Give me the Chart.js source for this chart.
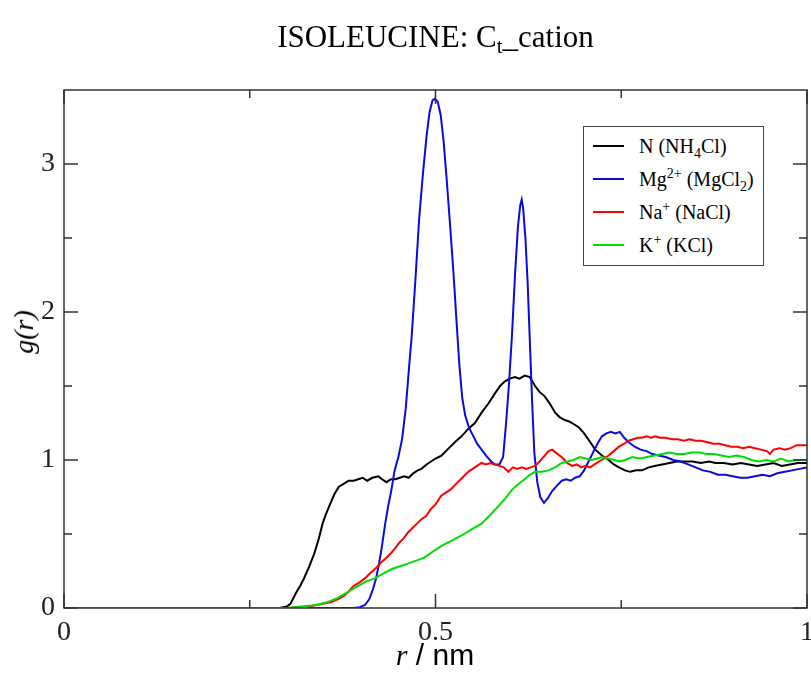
<!DOCTYPE html>
<html>
<head>
<meta charset="utf-8">
<script src="https://cdn.jsdelivr.net/npm/chart.js@4.4.1/dist/chart.umd.min.js"></script>
<style>
  body { margin:0; background:#fff; }
  #wrap { position:relative; width:811px; height:675px; }
  #grCanvas { position:absolute; left:0; top:0; }
  .lbl { position:absolute; font-family:"Liberation Serif", "Times New Roman", serif; color:#000; white-space:nowrap; }
  #title { left:64px; width:743px; top:19px; text-align:center; font-size:31px; line-height:36px; }
  #title sub { font-size:21px; vertical-align:-6px; line-height:0; }
  #ylab { left:24px; top:332px; font-size:28px; font-style:italic; transform:translate(-50%,-50%) rotate(-90deg); }
  #xlab { left:435px; top:655px; font-size:30px; transform:translate(-50%,-50%); }
  #xlab .nm { font-family:"Liberation Sans", Arial, sans-serif; font-style:normal; }
  #legend { position:absolute; left:583px; top:126px; width:179px; height:138px; border:1.5px solid #444; background:#fff;
            font-family:"Liberation Serif", "Times New Roman", serif; font-size:20px; }
  #legend .row { position:absolute; left:0; height:30px; line-height:30px; }
  #legend .swatch { position:absolute; left:9px; top:14px; width:31px; height:2px; }
  #legend .txt { position:absolute; left:55px; top:0; white-space:nowrap; }
  #legend sup { font-size:14px; vertical-align:8px; line-height:0; }
  #legend sub { font-size:14px; vertical-align:-5px; line-height:0; }
</style>
</head>
<body>
<div id="wrap">
  <canvas id="grCanvas" width="811" height="675"></canvas>
  <div id="title" class="lbl">ISOLEUCINE: C<sub>t</sub>_cation</div>
  <div id="ylab" class="lbl">g(r)</div>
  <div id="xlab" class="lbl"><i>r</i><span class="nm"> / nm</span></div>
  <div id="legend"></div>
</div>
<script>
// g(r) curves, [r in nm, g]
const nh4 = [[0,0],[0.29,0],[0.300,0.01],[0.305,0.03],[0.312,0.10],[0.318,0.15],[0.323,0.20],[0.330,0.28],[0.337,0.37],[0.343,0.47],
  [0.348,0.57],[0.353,0.64],[0.358,0.70],[0.364,0.77],[0.370,0.82],[0.377,0.84],[0.383,0.86],[0.390,0.86],[0.396,0.87],[0.402,0.88],
  [0.408,0.86],[0.415,0.88],[0.423,0.89],[0.428,0.87],[0.434,0.85],[0.440,0.87],[0.446,0.87],[0.452,0.88],[0.458,0.89],[0.464,0.88],
  [0.470,0.91],[0.476,0.93],[0.481,0.94],[0.488,0.97],[0.494,0.99],[0.500,1.01],[0.508,1.03],[0.516,1.07],[0.526,1.12],[0.535,1.16],
  [0.544,1.21],[0.553,1.25],[0.562,1.32],[0.571,1.38],[0.580,1.45],[0.587,1.50],[0.593,1.53],[0.600,1.55],[0.607,1.56],[0.613,1.55],
  [0.620,1.57],[0.627,1.56],[0.634,1.50],[0.640,1.46],[0.647,1.43],[0.654,1.38],[0.661,1.32],[0.667,1.29],[0.674,1.27],[0.680,1.26],
  [0.687,1.24],[0.693,1.22],[0.700,1.18],[0.707,1.13],[0.715,1.07],[0.724,1.03],[0.733,1.00],[0.740,0.97],[0.747,0.95],[0.755,0.93],
  [0.762,0.92],[0.770,0.93],[0.778,0.93],[0.787,0.95],[0.795,0.96],[0.805,0.97],[0.815,0.98],[0.825,0.99],[0.835,0.99],[0.846,0.99],
  [0.857,0.98],[0.868,0.99],[0.877,0.98],[0.888,0.98],[0.900,0.97],[0.911,0.98],[0.922,0.97],[0.933,0.96],[0.944,0.97],[0.955,0.98],
  [0.966,0.96],[0.977,0.97],[0.988,0.98],[1.0,0.98]];

const mg = [[0,0],[0.39,0],[0.398,0.005],[0.405,0.02],[0.411,0.06],[0.416,0.13],[0.420,0.20],[0.424,0.30],[0.428,0.42],[0.432,0.56],
  [0.436,0.68],[0.440,0.78],[0.445,0.93],[0.450,1.02],[0.455,1.14],[0.460,1.35],[0.464,1.60],[0.468,1.84],[0.473,2.22],[0.478,2.63],
  [0.483,2.93],[0.488,3.19],[0.492,3.35],[0.496,3.43],[0.499,3.44],[0.503,3.42],[0.507,3.33],[0.511,3.15],[0.515,2.90],[0.519,2.63],
  [0.524,2.28],[0.528,1.96],[0.532,1.65],[0.536,1.42],[0.540,1.30],[0.545,1.22],[0.550,1.17],[0.556,1.11],[0.562,1.07],[0.568,1.03],
  [0.575,0.99],[0.580,0.97],[0.586,0.97],[0.591,1.02],[0.595,1.25],[0.599,1.52],[0.603,1.85],[0.607,2.25],[0.611,2.58],[0.614,2.72],
  [0.616,2.76],[0.618,2.70],[0.621,2.50],[0.624,2.20],[0.627,1.80],[0.630,1.40],[0.633,1.05],[0.637,0.85],[0.641,0.75],[0.646,0.71],
  [0.651,0.74],[0.657,0.79],[0.664,0.83],[0.670,0.86],[0.676,0.87],[0.682,0.86],[0.688,0.88],[0.694,0.89],[0.700,0.93],[0.706,0.99],
  [0.712,1.05],[0.718,1.11],[0.724,1.16],[0.730,1.18],[0.736,1.19],[0.742,1.18],[0.748,1.19],[0.754,1.15],[0.760,1.12],[0.768,1.09],
  [0.776,1.07],[0.784,1.06],[0.792,1.04],[0.800,1.03],[0.810,1.02],[0.820,1.00],[0.830,0.99],[0.840,0.97],[0.850,0.95],[0.860,0.93],
  [0.870,0.92],[0.880,0.90],[0.890,0.90],[0.900,0.89],[0.910,0.88],[0.920,0.88],[0.930,0.89],[0.940,0.90],[0.950,0.89],[0.960,0.91],
  [0.970,0.92],[0.980,0.93],[0.990,0.94],[1.0,0.95]];

const na = [[0,0],[0.30,0],[0.315,0.005],[0.330,0.01],[0.340,0.02],[0.350,0.03],[0.360,0.04],[0.369,0.06],[0.376,0.08],[0.383,0.11],
  [0.390,0.15],[0.397,0.17],[0.405,0.20],[0.413,0.24],[0.420,0.27],[0.427,0.31],[0.434,0.34],[0.440,0.37],[0.445,0.40],[0.451,0.44],
  [0.457,0.47],[0.463,0.51],[0.469,0.54],[0.475,0.57],[0.481,0.60],[0.487,0.62],[0.494,0.67],[0.500,0.70],[0.508,0.76],[0.514,0.78],
  [0.520,0.80],[0.526,0.83],[0.532,0.86],[0.538,0.89],[0.544,0.92],[0.550,0.94],[0.556,0.96],[0.562,0.98],[0.568,0.97],[0.574,0.98],
  [0.580,0.97],[0.586,0.96],[0.592,0.95],[0.598,0.92],[0.604,0.95],[0.610,0.94],[0.616,0.95],[0.622,0.94],[0.628,0.95],[0.634,0.96],
  [0.640,0.99],[0.647,1.03],[0.652,1.06],[0.657,1.07],[0.662,1.05],[0.667,1.03],[0.672,1.01],[0.677,0.98],[0.684,0.96],[0.690,0.97],
  [0.696,0.95],[0.702,0.96],[0.708,0.95],[0.714,0.97],[0.720,0.99],[0.727,1.01],[0.733,1.03],[0.740,1.06],[0.747,1.09],[0.754,1.11],
  [0.760,1.13],[0.766,1.14],[0.772,1.15],[0.778,1.15],[0.784,1.16],[0.790,1.15],[0.796,1.16],[0.802,1.15],[0.810,1.15],[0.818,1.14],
  [0.826,1.14],[0.834,1.13],[0.842,1.14],[0.850,1.13],[0.858,1.13],[0.866,1.12],[0.874,1.11],[0.882,1.11],[0.890,1.10],[0.898,1.09],
  [0.906,1.09],[0.914,1.08],[0.922,1.09],[0.930,1.08],[0.938,1.07],[0.946,1.06],[0.950,1.04],[0.955,1.07],[0.963,1.08],[0.970,1.07],
  [0.978,1.08],[0.986,1.10],[1.0,1.10]];

const k = [[0,0],[0.30,0],[0.32,0.01],[0.34,0.02],[0.355,0.04],[0.369,0.07],[0.383,0.11],[0.396,0.15],[0.407,0.18],[0.418,0.20],
  [0.429,0.23],[0.440,0.26],[0.451,0.28],[0.463,0.30],[0.474,0.32],[0.485,0.34],[0.496,0.38],[0.508,0.42],[0.520,0.45],[0.535,0.49],
  [0.548,0.53],[0.562,0.57],[0.574,0.63],[0.585,0.69],[0.594,0.74],[0.603,0.80],[0.612,0.84],[0.620,0.87],[0.627,0.90],[0.634,0.92],
  [0.643,0.92],[0.652,0.93],[0.661,0.95],[0.670,0.98],[0.678,0.99],[0.686,1.00],[0.694,1.02],[0.702,1.01],[0.710,1.00],[0.718,1.01],
  [0.724,1.02],[0.732,1.01],[0.740,1.00],[0.748,0.99],[0.755,1.00],[0.765,1.02],[0.775,1.01],[0.785,1.02],[0.795,1.03],[0.805,1.04],
  [0.815,1.05],[0.825,1.04],[0.835,1.04],[0.845,1.05],[0.855,1.05],[0.865,1.04],[0.875,1.04],[0.885,1.03],[0.895,1.02],[0.905,1.03],
  [0.915,1.02],[0.925,1.00],[0.935,0.99],[0.945,1.00],[0.955,0.99],[0.965,1.01],[0.975,0.99],[0.985,1.00],[1.0,1.00]];

const seriesLabels = ['N (NH<sub>4</sub>Cl)', 'Mg<sup>2+</sup> (MgCl<sub>2</sub>)', 'Na<sup>+</sup> (NaCl)', 'K<sup>+</sup> (KCl)'];
const seriesColors = ['#000000', '#0a0ae0', '#ff0000', '#00dd00'];
const xMajor = [0, 0.5, 1];
const xMinor = [0.25, 0.75];
const yMajor = [0, 1, 2, 3];
const yMinor = [0.5, 1.5, 2.5];

const toPts = arr => arr.map(p => ({ x: p[0], y: p[1] }));
const allSeries = [nh4, mg, na, k];

// legend (html so sub/superscripts work)
const legendBox = document.getElementById('legend');
seriesLabels.forEach((lab, i) => {
  const row = document.createElement('div');
  row.className = 'row';
  row.style.top = (4 + i * 33) + 'px';
  row.innerHTML = '<span class="swatch" style="background:' + seriesColors[i] + '"></span><span class="txt">' + lab + '</span>';
  legendBox.appendChild(row);
});

// frame + inward ticks on all four sides, xmgrace style
const frameTicks = {
  id: 'frameTicks',
  afterDatasetsDraw(chart) {
    const { ctx, chartArea: a, scales } = chart;
    const xs = scales.x, ys = scales.y;
    ctx.save();
    ctx.strokeStyle = '#333';
    ctx.lineWidth = 1.5;
    ctx.strokeRect(a.left, a.top, a.right - a.left, a.bottom - a.top);
    const tick = (vals, len, horiz) => {
      vals.forEach(v => {
        ctx.beginPath();
        if (horiz) {
          const px = xs.getPixelForValue(v);
          ctx.moveTo(px, a.bottom); ctx.lineTo(px, a.bottom - len);
          ctx.moveTo(px, a.top); ctx.lineTo(px, a.top + len);
        } else {
          const py = ys.getPixelForValue(v);
          ctx.moveTo(a.left, py); ctx.lineTo(a.left + len, py);
          ctx.moveTo(a.right, py); ctx.lineTo(a.right - len, py);
        }
        ctx.stroke();
      });
    };
    tick(xMajor, 14, true);
    tick(xMinor, 8, true);
    tick(yMajor, 14, false);
    tick(yMinor, 8, false);
    ctx.restore();
  }
};

const ctx = document.getElementById('grCanvas').getContext('2d');
new Chart(ctx, {
  type: 'line',
  data: {
    datasets: allSeries.map((s, i) => ({
      label: seriesLabels[i],
      data: toPts(s),
      borderColor: seriesColors[i],
      borderWidth: 2,
      pointRadius: 0,
      tension: 0,
      fill: false,
      order: 3 - i
    }))
  },
  options: {
    responsive: false,
    animation: false,
    events: [],
    layout: { padding: { top: 90, right: 4, left: 0, bottom: 0 } },
    plugins: { legend: { display: false }, title: { display: false }, tooltip: { enabled: false } },
    scales: {
      x: {
        type: 'linear', min: 0, max: 1,
        afterFit: s => { s.height = 67; s.paddingLeft = 0; s.paddingRight = 0; },
        grid: { display: false, drawTicks: false },
        border: { display: false },
        ticks: { stepSize: 0.5, includeBounds: false, padding: 8, color: '#222', maxRotation: 0,
                 callback: v => String(v),
                 font: { family: 'Liberation Serif', size: 28 } }
      },
      y: {
        type: 'linear', min: 0, max: 3.5,
        afterFit: s => { s.width = 64; s.paddingTop = 0; s.paddingBottom = 0; },
        grid: { display: false, drawTicks: false },
        border: { display: false },
        ticks: { stepSize: 1, includeBounds: false, padding: 9, color: '#222',
                 font: { family: 'Liberation Serif', size: 28 } }
      }
    }
  },
  plugins: [frameTicks]
});
</script>
</body>
</html>
